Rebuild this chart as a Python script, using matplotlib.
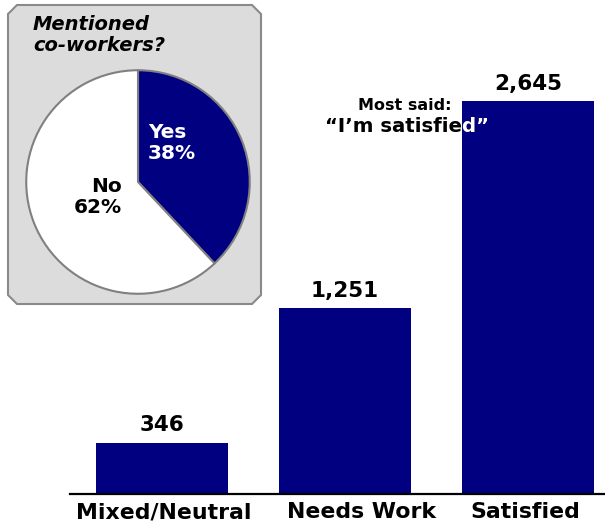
import matplotlib
matplotlib.use("Agg")
import matplotlib.pyplot as plt
from matplotlib.patches import Polygon

# Response counts by category
categories = ["Mixed/Neutral", "Needs Work", "Satisfied"]
counts = [346, 1251, 2645]
count_labels = ["346", "1,251", "2,645"]

# Share of responses that mentioned co-workers
pie_labels = ["Yes\n38%", "No\n62%"]
pie_shares = [38, 62]

NAVY = "#000080"
W, H = 605, 529
FONT = "DejaVu Sans"


def px(x, y):
    """Pixel position (origin top-left) -> figure fraction."""
    return x / W, 1 - y / H


fig = plt.figure(figsize=(W / 100, H / 100), dpi=100)
fig.patch.set_facecolor("white")

# ---- bar chart ----
left, bottom = px(70, 494)
_, top = px(0, 60)
ax = fig.add_axes([left, bottom, (W - 70) / W, top - bottom])
x = list(range(len(categories)))
bars = ax.bar(x, counts, width=0.725, color=NAVY, edgecolor="none")
ax.set_xlim(-0.503, 2.42)
ax.set_ylim(0, 2645 * 434 / 393)
for s in ("top", "right", "left"):
    ax.spines[s].set_visible(False)
ax.spines["bottom"].set_linewidth(1.6)
ax.spines["bottom"].set_color("black")
ax.set_yticks([])
# category labels sit slightly off the bar centres
ax.set_xticks([0.01, 1.09, 1.985])
ax.set_xticklabels(categories, fontsize=15.8, fontweight="bold", family=FONT)
ax.tick_params(axis="x", length=0, pad=6)
ax.patch.set_alpha(0)

for xi, v, lab in zip(x, counts, count_labels):
    ax.annotate(lab, (xi, v), xytext=(0, 8), textcoords="offset points",
                ha="center", va="baseline", fontsize=15.5,
                fontweight="bold", family=FONT)

# Callout above the tallest bar: black on white, white where it crosses the bar
fig.text(*px(405, 105), "Most said:", ha="center", va="center",
         fontsize=11.5, fontweight="bold", family=FONT)
qx, qy = px(407, 127)
quote = "\u201cI\u2019m satisfied\u201d"
fig.text(qx, qy, quote, ha="center", va="center", fontsize=14.2,
         fontweight="bold", family=FONT, color="black")
white_part = fig.text(qx, qy, quote, ha="center", va="center", fontsize=14.2,
                      fontweight="bold", family=FONT, color="white")
white_part.set_clip_path(bars[2])

# ---- inset panel with pie ----
x0, x1, y0, y1, c = 8, 261, 5, 304, 9
corners = [(x0 + c, y0), (x1 - c, y0), (x1, y0 + c), (x1, y1 - c),
           (x1 - c, y1), (x0 + c, y1), (x0, y1 - c), (x0, y0 + c)]
panel = Polygon([px(a, b) for a, b in corners], closed=True,
                transform=fig.transFigure, facecolor="#dcdcdc",
                edgecolor="#8a8a8a", linewidth=1.5, zorder=0)
fig.add_artist(panel)

fig.text(*px(33, 25), "Mentioned", ha="left", va="center", fontsize=14,
         fontweight="bold", style="italic", family=FONT)
fig.text(*px(33, 46), "co-workers?", ha="left", va="center", fontsize=14,
         fontweight="bold", style="italic", family=FONT)

pl, pb = px(24, 296)
pax = fig.add_axes([pl, pb, 228 / W, 228 / H])
pax.pie(pie_shares, colors=[NAVY, "white"], startangle=90, counterclock=False,
        radius=1, wedgeprops=dict(edgecolor="#808080", linewidth=1.5))
pax.set_xlim(-1.02, 1.02)
pax.set_ylim(-1.02, 1.02)
pax.set_aspect("equal")
pax.axis("off")

fig.text(*px(148, 143), pie_labels[0], ha="left", va="center", fontsize=14.5,
         fontweight="bold", family=FONT, color="white", linespacing=1.15)
fig.text(*px(122, 197), pie_labels[1], ha="right", va="center", fontsize=14.5,
         fontweight="bold", family=FONT, color="black", linespacing=1.15,
         multialignment="right")

fig.savefig("out.png", dpi=100)
